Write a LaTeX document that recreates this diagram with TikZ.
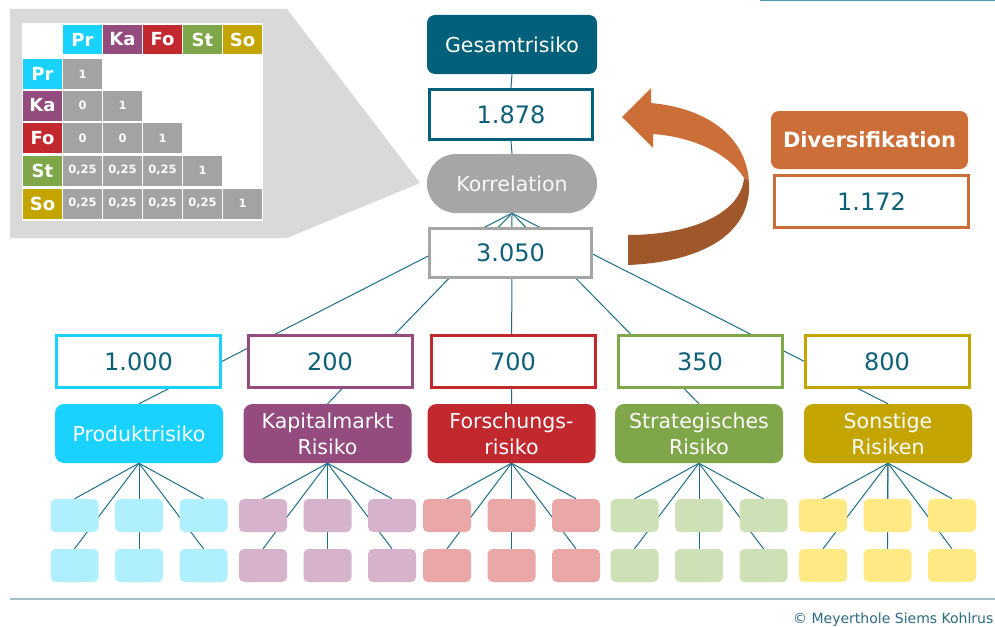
\documentclass[tikz,border=0pt]{standalone}
\usepackage{fontspec}
\setmainfont{DejaVu Sans}
\definecolor{tealdark}{HTML}{02607A}
\definecolor{valtxt}{HTML}{0E6079}
\definecolor{linecol}{HTML}{1F6E85}
\definecolor{cPr}{HTML}{19D2FF}
\definecolor{cKa}{HTML}{944B7E}
\definecolor{cFo}{HTML}{C1292F}
\definecolor{cSt}{HTML}{7FA649}
\definecolor{cSo}{HTML}{C4A500}
\definecolor{lc}{HTML}{B0EFFE}
\definecolor{lp}{HTML}{D7B3CB}
\definecolor{lr}{HTML}{EAA7A8}
\definecolor{lg}{HTML}{CDE0B6}
\definecolor{ly}{HTML}{FFE985}
\definecolor{orangeA}{HTML}{CC6E37}
\definecolor{orangeB}{HTML}{A0582B}
\definecolor{graynode}{HTML}{A6A6A6}
\definecolor{callout}{HTML}{D9D9D9}
\definecolor{cellgray}{HTML}{A3A3A3}
\definecolor{rulecol}{HTML}{A3BFC7}
\definecolor{toprule}{HTML}{4A9BB0}
\definecolor{copycol}{HTML}{2B6A80}
\pgfdeclarelayer{bg}
\pgfdeclarelayer{lines}
\pgfsetlayers{bg,lines,main}
\begin{document}
\begin{tikzpicture}[x=1pt,y=-1pt,
  valbox/.style={draw=#1, fill=white, line width=3pt, inner sep=0pt, minimum width=164pt, minimum height=52pt, text=valtxt, font=\fontsize{24}{28}\selectfont},
  catbox/.style={fill=#1, rounded corners=9pt, inner sep=0pt, minimum width=168pt, minimum height=59pt, text=white, align=center, font=\fontsize{20.5}{26}\selectfont},
  leafbox/.style={fill=#1, rounded corners=5pt, inner sep=0pt, minimum width=48pt, minimum height=33pt},
  conn/.style={draw=linecol, line width=1pt},
  hcell/.style={fill=#1, inner sep=0pt, minimum width=39pt, minimum height=29pt, text=white, font=\bfseries\fontsize{18}{18}\selectfont},
  gcell/.style={fill=cellgray, inner sep=0pt, minimum width=39pt, minimum height=30pt, text=white, font=\bfseries\fontsize{11.5}{12}\selectfont},
]
\useasboundingbox (0,0) rectangle (995,626);

% callout background
\begin{pgfonlayer}{bg}
\fill[callout] (10,9) -- (287,9) -- (420,183) -- (287,238) -- (10,238) -- cycle;
\fill[white] (22,23) rectangle (263,221);
\end{pgfonlayer}

% correlation table
\foreach \lab/\col [count=\j] in {Pr/cPr,Ka/cKa,Fo/cFo,St/cSt,So/cSo} {
  \node[hcell=\col] (h\j) at ({42.5+40*\j},39.5) {\lab};
}
\foreach \lab/\col/\yy [count=\i] in {Pr/cPr/74,Ka/cKa/105.5,Fo/cFo/138,St/cSt/170.5,So/cSo/203.5} {
  \node[hcell=\col, minimum height=30pt] (r\i) at (42.5,\yy) {\lab};
  \foreach \j in {1,...,\i} {
    \node[gcell] (g\i\j) at ({42.5+40*\j},\yy) {\ifnum\j=\i\relax 1\else\ifnum\i<4 0\else 0,25\fi\fi};
  }
}

% top structure
\node[fill=tealdark, rounded corners=8pt, inner sep=0pt, minimum width=170pt, minimum height=59pt, text=white, font=\fontsize{20.5}{24}\selectfont] (ges) at (512,44.5) {Gesamtrisiko};
\node[valbox=tealdark, minimum width=163pt, minimum height=50pt] (v1878) at (511,114.5) {1.878};
\node[fill=graynode, rounded corners=29pt, inner sep=0pt, minimum width=170pt, minimum height=59pt, text=white!95!gray, font=\fontsize{20.5}{24}\selectfont] (kor) at (512,183.5) {Korrelation};
\node[valbox=graynode, minimum width=162pt, minimum height=49pt] (v3050) at (510.5,253) {3.050};

% diversification
\node[fill=orangeA, rounded corners=8pt, inner sep=0pt, minimum width=197pt, minimum height=58pt, text=white, font=\bfseries\fontsize{21}{24}\selectfont] (div) at (869.5,140) {Diversifikation};
\node[valbox=orangeA, minimum width=194pt, minimum height=52pt] (v1172) at (871.5,201.5) {1.172};

% curved ribbon arrow
\fill[orangeA] (622,117) -- (651,88) -- (651,103) .. controls (705,108) and (746,135) .. (749,182) -- (744,178) .. controls (730,155) and (695,137) .. (653,134) -- (653,148) -- cycle;
\fill[orangeB] (744,178) .. controls (741,214) and (690,235) .. (628,235) -- (628,265) .. controls (702,262) and (752,234) .. (749,182) -- cycle;

% value boxes
\node[valbox=cPr] (v1) at (138.5,361.5) {1.000};
\node[valbox=cKa] (v2) at (330,361.5) {200};
\node[valbox=cFo] (v3) at (513,361.5) {700};
\node[valbox=cSt] (v4) at (700,361.5) {350};
\node[valbox=cSo] (v5) at (887,361.5) {800};

% category boxes
\node[catbox=cPr] (cat1) at (139,433.5) {Produktrisiko};
\node[catbox=cKa] (cat2) at (327.5,433.5) {Kapitalmarkt\\Risiko};
\node[catbox=cFo] (cat3) at (511.5,433.5) {Forschungs-\\risiko};
\node[catbox=cSt] (cat4) at (699,433.5) {Strategisches\\Risiko};
\node[catbox=cSo] (cat5) at (888,433.5) {Sonstige\\Risiken};

% connectors of the top
\begin{pgfonlayer}{lines}
\draw[conn] (ges.south) -- (v1878.north);
\draw[conn] (v1878.south) -- (kor.north);
\foreach \k in {1,...,5} {
  \draw[conn] (kor.south) -- (cat\k.north);
}
\end{pgfonlayer}

% leaves
\foreach \c/\k/\col in {139/1/lc,327.5/2/lp,511.5/3/lr,699/4/lg,887.5/5/ly} {
  \foreach \ii in {1,2,3} {
    \node[leafbox=\col] (la\k\ii) at ({\c+64.5*(\ii-2)},515.5) {};
    \node[leafbox=\col] (lb\k\ii) at ({\c+64.5*(\ii-2)},565.5) {};
    \begin{pgfonlayer}{lines}
      \draw[conn] (cat\k.south) -- (la\k\ii.north);
      \draw[conn] (cat\k.south) -- (lb\k\ii.north);
    \end{pgfonlayer}
  }
}

% frame rules and footer
\draw[toprule, line width=1.5pt] (760,0.75) -- (995,0.75);
\draw[rulecol, line width=1.5pt] (10,599) -- (995,599);
\node[anchor=base west, inner sep=0pt, text=copycol, font=\fontsize{14}{16}\selectfont] (copy) at (793,623) {© Meyerthole Siems Kohlrus};
\end{tikzpicture}
\end{document}
